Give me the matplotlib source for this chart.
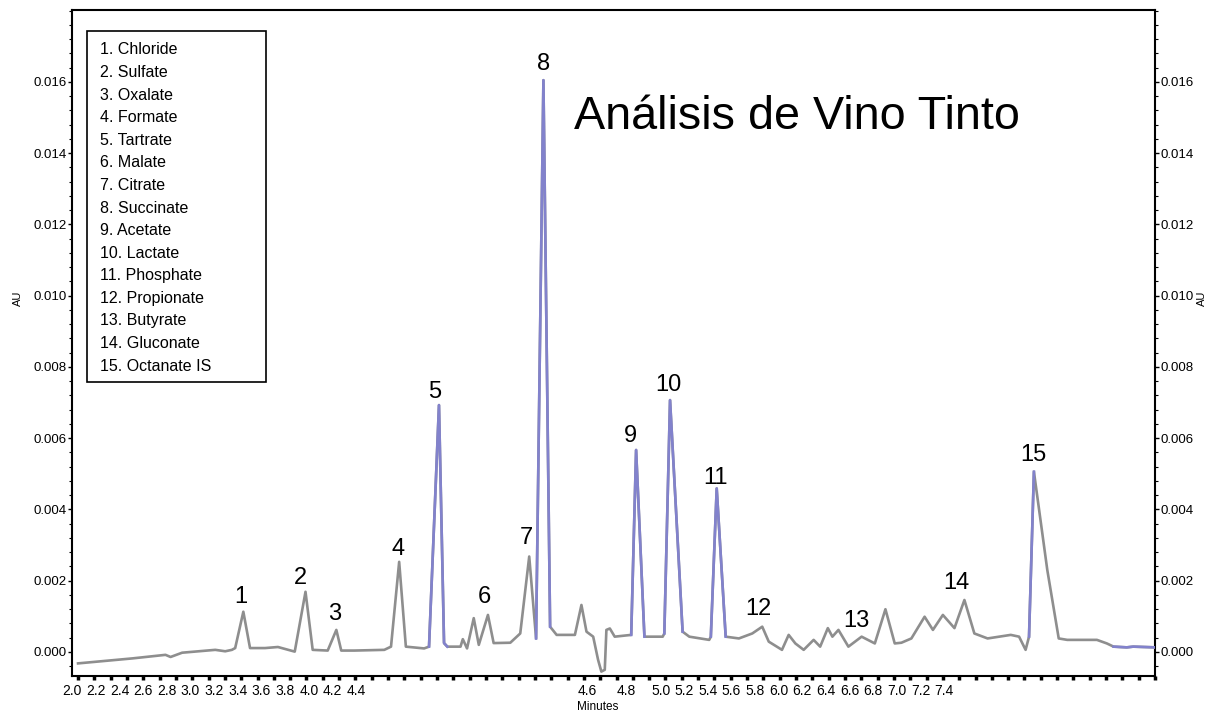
import matplotlib
matplotlib.use("Agg")
import matplotlib.pyplot as plt
from matplotlib.ticker import MultipleLocator, FormatStrFormatter, FixedLocator
from matplotlib.patches import Rectangle
import numpy as np

plt.rcParams['font.family'] = ['Liberation Sans', 'DejaVu Sans']

# ---- data: trace (position in axis divisions, absorbance AU) ----
pos = [0.00, 3.33, 5.36, 5.67, 6.38, 8.41, 9.02, 9.43, 9.63, 10.13, 10.54, 11.46, 12.25,
       13.28, 13.94, 14.38, 15.30, 15.83, 16.13, 16.94, 18.77, 19.18, 19.68, 20.09, 21.21,
       21.51, 22.12, 22.43, 22.63, 23.44, 23.58, 23.84, 24.25, 24.56, 25.12, 25.47, 26.49,
       27.10, 27.65, 28.07, 28.52, 28.93, 29.33, 30.45, 30.85, 31.16, 31.57, 31.87, 32.07,
       32.28, 32.38, 32.59, 32.89, 33.90, 34.20, 34.71, 35.83, 35.93, 36.28, 37.05, 37.46,
       38.68, 38.78, 39.14, 39.69, 40.50, 41.32, 41.93, 42.33, 43.14, 43.55, 43.96, 44.47,
       45.08, 45.48, 45.95, 46.23, 46.60, 47.21, 48.02, 48.83, 49.48, 50.05, 50.46, 51.07,
       51.88, 52.39, 53.00, 53.71, 54.32, 54.93, 55.74, 57.16, 57.67, 58.07, 58.28, 58.58,
       59.40, 60.10, 60.62, 62.44, 63.05, 63.46, 64.27, 64.66, 66.00]
au = [-0.00032, -0.00018, -0.00008, -0.00014, -0.00002, 0.00006, 0.00002, 0.00006, 0.00011,
      0.00113, 0.00011, 0.00011, 0.00014, 0.00001, 0.00169, 0.00006, 0.00004, 0.00062,
      0.00004, 0.00004, 0.00006, 0.00015, 0.00253, 0.00015, 0.00010, 0.00015, 0.00693,
      0.00025, 0.00015, 0.00015, 0.00036, 0.00010, 0.00095, 0.00020, 0.00104, 0.00025,
      0.00026, 0.00052, 0.00268, 0.00038, 0.01605, 0.00071, 0.00048, 0.00048, 0.00132,
      0.00057, 0.00043, -0.00022, -0.00055, -0.00050, 0.00062, 0.00066, 0.00043, 0.00048,
      0.00567, 0.00043, 0.00043, 0.00052, 0.00707, 0.00057, 0.00043, 0.00034, 0.00043,
      0.00459, 0.00043, 0.00038, 0.00052, 0.00071, 0.00029, 0.00006, 0.00048, 0.00024,
      0.00006, 0.00034, 0.00015, 0.00067, 0.00043, 0.00062, 0.00015, 0.00043, 0.00024,
      0.00120, 0.00024, 0.00026, 0.00038, 0.00099, 0.00062, 0.00104, 0.00067, 0.00146,
      0.00052, 0.00038, 0.00048, 0.00043, 0.00006, 0.00043, 0.00506, 0.00230, 0.00038,
      0.00034, 0.00034, 0.00024, 0.00015, 0.00013, 0.00015, 0.00013]

# segments drawn in blue (start, end position)
blue_ranges = [(21.51, 22.63), (28.07, 28.93), (33.90, 34.71), (35.93, 37.05),
               (38.78, 39.69), (58.28, 58.58), (63.46, 66.00)]

# peak numbers: (label, position, AU of label centre)
peak_labels = ['1', '2', '3', '4', '5', '6', '7', '8', '9', '10', '11', '12', '13', '14', '15']
peak_pos = [10.00, 13.60, 15.72, 19.62, 21.88, 24.93, 27.50, 28.52, 33.88, 36.15, 39.07,
            41.68, 47.72, 53.82, 58.56]
peak_lab_y = [0.00154, 0.00207, 0.00107, 0.00289, 0.00730, 0.00154, 0.00320, 0.01650,
              0.00605, 0.00749, 0.00488, 0.00121, 0.00087, 0.00194, 0.00554]

legend_items = ['1. Chloride', '2. Sulfate', '3. Oxalate', '4. Formate', '5. Tartrate',
                '6. Malate', '7. Citrate', '8. Succinate', '9. Acetate', '10. Lactate',
                '11. Phosphate', '12. Propionate', '13. Butyrate', '14. Gluconate',
                '15. Octanate IS']

xtick_labels = ['2.0', '2.2', '2.4', '2.6', '2.8', '3.0', '3.2', '3.4', '3.6', '3.8', '4.0',
                '4.2', '4.4', '4.6', '4.8', '5.0', '5.2', '5.4', '5.6', '5.8', '6.0', '6.2',
                '6.4', '6.6', '6.8', '7.0', '7.2', '7.4']
xtick_pos = [-0.37, 1.08, 2.54, 3.99, 5.44, 6.89, 8.34, 9.79, 11.24, 12.69, 14.14, 15.59,
             17.04, 31.20, 33.58, 35.71, 37.16, 38.60, 40.05, 41.50, 42.95, 44.39, 45.84,
             47.29, 48.74, 50.18, 51.63, 53.08]
ytick_vals = [0.000, 0.002, 0.004, 0.006, 0.008, 0.010, 0.012, 0.014, 0.016]

title = 'Análisis de Vino Tinto'

# ---- figure ----
fig = plt.figure(figsize=(12.14, 7.15), dpi=100)
ax = fig.add_axes([72/1214, 39/715, 1083/1214, 666/715])

GRAY = '#8e8e8e'
BLUE = '#8282cc'
x = np.array(pos)
y = np.array(au)
ax.plot(x, y, color=GRAY, lw=1.9, solid_joinstyle='round', zorder=3)
for a, b in blue_ranges:
    m = (x >= a - 1e-9) & (x <= b + 1e-9)
    ax.plot(x[m], y[m], color=BLUE, lw=1.9, solid_joinstyle='round', zorder=4)

for lab, px, py in zip(peak_labels, peak_pos, peak_lab_y):
    ax.text(px, py, lab, fontsize=17, ha='center', va='center', color='black', zorder=5)

ax.text(0.669, 0.839, title, transform=ax.transAxes, fontsize=33.7, ha='center',
        va='center', color='black')

# legend box
ax.add_patch(Rectangle((0.0139, 0.4414), 0.1653, 0.5271, transform=ax.transAxes,
                       fill=False, edgecolor='black', lw=1.2, zorder=6))
for i, t in enumerate(legend_items):
    ax.text(0.0259, 0.940 - i * 0.0339, t, transform=ax.transAxes, fontsize=11.5,
            ha='left', va='center', color='black', zorder=6)

ax.set_xlim(0, 66)
ax.set_ylim(-0.000674, 0.01802)

ax.xaxis.set_major_locator(MultipleLocator(1))
ax.xaxis.set_major_formatter(plt.NullFormatter())
ax.set_xticks(xtick_pos, xtick_labels, minor=True)
ax.tick_params(axis='x', which='major', direction='out', length=3, width=2.5,
               color='black', top=False)
ax.tick_params(axis='x', which='minor', length=0, pad=6, labelsize=10)

ax.yaxis.set_major_locator(FixedLocator(ytick_vals))
ax.yaxis.set_minor_locator(MultipleLocator(0.0004))
ax.yaxis.set_major_formatter(FormatStrFormatter('%.3f'))
ax.tick_params(axis='y', which='both', direction='out', left=True, right=True,
               labelleft=True, labelright=True, labelsize=9.5, pad=0.8)
ax.tick_params(axis='y', which='major', length=3, width=1)
ax.tick_params(axis='y', which='minor', length=2, width=0.8)

for s in ax.spines.values():
    s.set_linewidth(1.5)

fig.text(18/1214, 1 - 298/715, 'AU', rotation=90, fontsize=8, ha='center', va='center')
fig.text(1202/1214, 1 - 298/715, 'AU', rotation=90, fontsize=8, ha='center', va='center')
fig.text(598/1214, 1 - 707/715, 'Minutes', fontsize=8.5, ha='center', va='center')

fig.savefig('out.png', dpi=100)
